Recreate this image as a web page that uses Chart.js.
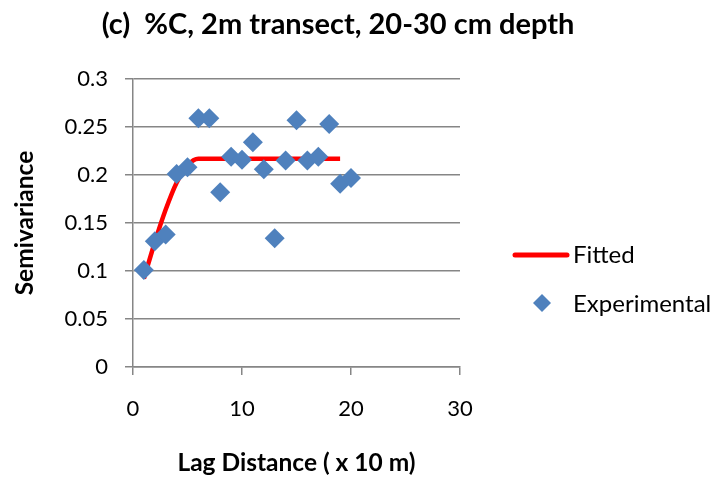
<!DOCTYPE html>
<html>
<head>
<meta charset="utf-8">
<script src="https://cdn.jsdelivr.net/npm/chart.js@4/dist/chart.umd.min.js"></script>
<style>
  html, body { margin: 0; padding: 0; background: #ffffff; }
  #wrap { width: 725px; height: 479px; position: relative; }
</style>
</head>
<body>
<div id="wrap"><canvas id="c" width="725" height="479"></canvas></div>
<script>
// ---- Data ----
const titleText = "(c)  %C, 2m transect, 20-30 cm depth";
const xAxisTitle = "Lag Distance ( x 10 m)";
const yAxisTitle = "Semivariance";
const seriesNames = ["Fitted", "Experimental"];

const lagExperimental = [1, 2, 3, 4, 5, 6, 7, 8, 9, 10, 11, 12, 13, 14, 15, 16, 17, 18, 19, 20];
const semivarExperimental = [0.101, 0.131, 0.138, 0.201, 0.208, 0.259, 0.259, 0.182, 0.219, 0.216,
                             0.234, 0.206, 0.134, 0.215, 0.257, 0.215, 0.219, 0.253, 0.191, 0.197];

const lagFitted = [1, 2, 3, 4, 5, 6, 7, 8, 9, 10, 11, 12, 13, 14, 15, 16, 17, 18, 19];
const semivarFitted = [0.092, 0.130, 0.164, 0.192, 0.210, 0.217, 0.217, 0.217, 0.217, 0.217,
                       0.217, 0.217, 0.217, 0.217, 0.217, 0.217, 0.217, 0.217, 0.217];

const xTickValues = [0, 10, 20, 30];
const xTickLabels = ["0", "10", "20", "30"];
const yTickValues = [0, 0.05, 0.1, 0.15, 0.2, 0.25, 0.3];
const yTickLabels = ["0", "0.05", "0.1", "0.15", "0.2", "0.25", "0.3"];

// ---- Styles ----
const FONT = "Lato, 'Open Sans', 'Liberation Sans', sans-serif";
const RED = "#FF0000";
const BLUE = "#4F81BD";
const GRID = "#868686";

const toPoints = (xs, ys) => xs.map((x, i) => ({ x: x, y: ys[i] }));

function labelFor(values, labels, v) {
  for (let i = 0; i < values.length; i++) {
    if (Math.abs(values[i] - v) < 1e-9) return labels[i];
  }
  return "";
}

const titleLegendPlugin = {
  id: "titleLegend",
  afterDraw(chart) {
    const ctx = chart.ctx;
    ctx.save();
    // Title
    ctx.fillStyle = "#000000";
    ctx.font = "bold 29px " + FONT;
    ctx.textAlign = "center";
    ctx.textBaseline = "middle";
    ctx.fillText(titleText, 338, 25);

    // Legend
    ctx.font = "24px " + FONT;
    ctx.textAlign = "left";
    ctx.textBaseline = "middle";
    // Fitted: line
    ctx.strokeStyle = RED;
    ctx.lineWidth = 5;
    ctx.lineCap = "round";
    ctx.beginPath();
    ctx.moveTo(515, 255);
    ctx.lineTo(567, 255);
    ctx.stroke();
    ctx.fillStyle = "#000000";
    ctx.fillText(seriesNames[0], 573, 255);
    // Experimental: diamond
    ctx.fillStyle = BLUE;
    const cx = 542, cy = 303, r = 9;
    ctx.beginPath();
    ctx.moveTo(cx, cy - r);
    ctx.lineTo(cx + r, cy);
    ctx.lineTo(cx, cy + r);
    ctx.lineTo(cx - r, cy);
    ctx.closePath();
    ctx.fill();
    ctx.fillStyle = "#000000";
    ctx.fillText(seriesNames[1], 573, 304);
    ctx.restore();
  }
};

new Chart(document.getElementById("c"), {
  type: "scatter",
  data: {
    datasets: [
      {
        label: seriesNames[0],
        data: toPoints(lagFitted, semivarFitted),
        showLine: true,
        borderColor: RED,
        backgroundColor: RED,
        borderWidth: 4.5,
        pointRadius: 0,
        pointHoverRadius: 0,
        tension: 0.4,
        cubicInterpolationMode: "monotone",
        order: 2
      },
      {
        label: seriesNames[1],
        data: toPoints(lagExperimental, semivarExperimental),
        showLine: false,
        pointStyle: "rectRot",
        pointRadius: 10,
        pointHoverRadius: 10,
        backgroundColor: BLUE,
        borderColor: BLUE,
        borderWidth: 0,
        order: 1
      }
    ]
  },
  options: {
    responsive: false,
    animation: false,
    devicePixelRatio: 1,
    layout: { padding: { left: 0, top: 79, right: 265, bottom: 0 } },
    plugins: {
      legend: { display: false },
      title: { display: false },
      tooltip: { enabled: false }
    },
    scales: {
      x: {
        type: "linear",
        min: 0,
        max: 30,
        afterFit(scale) { scale.height = 112; },
        afterBuildTicks(scale) { scale.ticks = xTickValues.map(v => ({ value: v })); },
        ticks: {
          color: "#000000",
          font: { family: FONT, size: 22, lineHeight: 1.2 },
          padding: 21,
          maxRotation: 0,
          callback: (v) => labelFor(xTickValues, xTickLabels, v)
        },
        grid: {
          drawOnChartArea: false,
          drawTicks: true,
          tickLength: 8,
          color: GRID,
          lineWidth: 1.5
        },
        border: { display: true, color: GRID, width: 1.5 },
        title: {
          display: true,
          text: xAxisTitle,
          color: "#000000",
          font: { family: FONT, size: 24.5, weight: "bold", lineHeight: 1.2 },
          padding: { top: 0, bottom: 1 }
        }
      },
      y: {
        type: "linear",
        min: 0,
        max: 0.3,
        afterFit(scale) { scale.width = 133; },
        afterBuildTicks(scale) { scale.ticks = yTickValues.map(v => ({ value: v })); },
        ticks: {
          color: "#000000",
          font: { family: FONT, size: 22, lineHeight: 1.2 },
          padding: 17,
          callback: (v) => labelFor(yTickValues, yTickLabels, v)
        },
        grid: {
          drawOnChartArea: true,
          drawTicks: true,
          tickLength: 8,
          color: GRID,
          lineWidth: 1.5
        },
        border: { display: true, color: GRID, width: 1.5 },
        title: {
          display: true,
          text: yAxisTitle,
          color: "#000000",
          font: { family: FONT, size: 24.5, weight: "bold", lineHeight: 1.2 },
          padding: { top: 10, bottom: 0 }
        }
      }
    }
  },
  plugins: [titleLegendPlugin]
});
</script>
</body>
</html>
